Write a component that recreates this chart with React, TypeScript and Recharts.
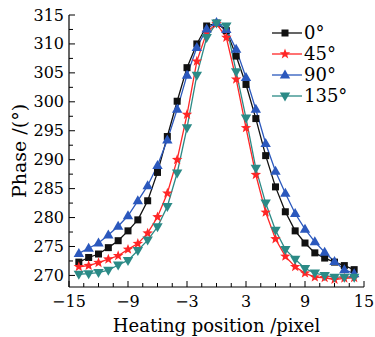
import React from "react";
import { Legend, Line, LineChart, XAxis, YAxis } from "recharts";

// heating position (pixel) and measured phase for each polarization angle
const positions = [
  -14, -13, -12, -11, -10, -9, -8, -7, -6, -5, -4, -3, -2, -1, 0, 1, 2, 3, 4, 5,
  6, 7, 8, 9, 10, 11, 12, 13, 14,
];
const phase0 = [
  272.3, 273.1, 273.7, 274.8, 276.0, 277.7, 279.6, 282.9, 287.8, 294.0, 300.1,
  305.9, 310.0, 313.1, 313.6, 312.3, 307.9, 303.0, 297.1, 290.7, 285.3, 281.0,
  277.7, 275.6, 273.9, 273.0, 272.3, 271.7, 271.0,
];
const phase45 = [
  271.5, 271.7, 272.2, 272.8, 273.4, 274.5, 275.5, 277.3, 280.1, 284.2, 290.0,
  297.8, 307.0, 312.0, 313.5, 311.1, 303.9, 295.5, 287.4, 280.9, 276.3, 273.3,
  271.5, 270.4, 269.7, 269.6, 269.3, 269.5, 269.6,
];
const phase90 = [
  273.8, 274.7, 275.6, 277.0, 278.5, 280.3, 282.9, 285.5, 289.0, 293.4, 298.7,
  304.6, 309.4, 312.6, 313.7, 312.5, 309.1, 304.2, 298.7, 292.8, 288.0, 284.2,
  280.7, 278.0, 275.8, 274.0, 272.4, 271.0, 270.3,
];
const phase135 = [
  270.2, 270.3, 270.5, 270.9, 271.8, 272.6, 274.3, 276.1, 278.4, 281.9, 287.7,
  295.5, 304.6, 311.1, 313.6, 313.1, 305.2, 297.2, 288.5, 282.5, 277.8, 274.5,
  272.8, 271.2, 270.4, 270.0, 269.7, 269.7, 269.7,
];

const xTicks = [-15, -9, -3, 3, 9, 15];
const xMinorTicks = [
  -15, -13.5, -12, -10.5, -9, -7.5, -6, -4.5, -3, -1.5, 0, 1.5, 3, 4.5, 6, 7.5,
  9, 10.5, 12, 13.5, 15,
];
const yTicks = [270, 275, 280, 285, 290, 295, 300, 305, 310, 315];
const yMinorTicks = [
  270, 272.5, 275, 277.5, 280, 282.5, 285, 287.5, 290, 292.5, 295, 297.5, 300,
  302.5, 305, 307.5, 310, 312.5, 315,
];

const series = [
  { key: "a0", name: "0°", color: "#111111", shape: "square" },
  { key: "a45", name: "45°", color: "#ff2626", shape: "star" },
  { key: "a90", name: "90°", color: "#2b58bd", shape: "up" },
  { key: "a135", name: "135°", color: "#2b8a86", shape: "down" },
];

const data = positions.map((x, i) => ({
  x,
  a0: phase0[i],
  a45: phase45[i],
  a90: phase90[i],
  a135: phase135[i],
}));

const FONT = "'DejaVu Serif', serif";

const starPoints = (cx: number, cy: number, R: number, r: number) => {
  const pts: string[] = [];
  for (let k = 0; k < 10; k++) {
    const rad = k % 2 === 0 ? R : r;
    const a = -Math.PI / 2 + (k * Math.PI) / 5;
    pts.push(`${cx + rad * Math.cos(a)},${cy + rad * Math.sin(a)}`);
  }
  return pts.join(" ");
};

const Marker = ({ cx, cy, shape, color }: any) => {
  if (cx == null || cy == null) return null;
  if (shape === "square")
    return <rect x={cx - 3.5} y={cy - 3.5} width={7} height={7} fill={color} />;
  if (shape === "star")
    return <polygon points={starPoints(cx, cy, 5.5, 2.3)} fill={color} />;
  if (shape === "up")
    return (
      <polygon
        points={`${cx},${cy - 5.5} ${cx - 5.2},${cy + 3.5} ${cx + 5.2},${cy + 3.5}`}
        fill={color}
      />
    );
  return (
    <polygon
      points={`${cx},${cy + 5.5} ${cx - 5.2},${cy - 3.5} ${cx + 5.2},${cy - 3.5}`}
      fill={color}
    />
  );
};

const fmt = (v: number) => (v < 0 ? `\u2212${Math.abs(v)}` : `${v}`);

const XTick = (props: any) => {
  const { x, y, payload } = props;
  const major = xTicks.includes(payload.value);
  return (
    <g>
      <line x1={x} x2={x} y1={y} y2={y - (major ? 6 : 4)} stroke="#000" />
      {major && (
        <text
          x={x}
          y={y + 14}
          textAnchor="middle"
          dominantBaseline="central"
          fontFamily={FONT}
          fontSize={16}
          fill="#000"
        >
          {fmt(payload.value)}
        </text>
      )}
    </g>
  );
};

const YTick = (props: any) => {
  const { x, y, payload } = props;
  const major = yTicks.includes(payload.value);
  return (
    <g>
      <line x1={x} x2={x + (major ? 6 : 4)} y1={y} y2={y} stroke="#000" />
      {major && (
        <text
          x={x - 5}
          y={y}
          textAnchor="end"
          dominantBaseline="central"
          fontFamily={FONT}
          fontSize={16}
          fill="#000"
        >
          {payload.value}
        </text>
      )}
    </g>
  );
};

const LegendContent = () => (
  <div style={{ fontFamily: FONT, fontSize: 18, color: "#000" }}>
    {series.map((s) => (
      <div
        key={s.key}
        style={{ display: "flex", alignItems: "center", height: 21 }}
      >
        <svg width={30} height={14} style={{ marginRight: 2 }}>
          <line x1={0} x2={30} y1={7} y2={7} stroke={s.color} strokeWidth={1.3} />
          <Marker cx={13} cy={7} shape={s.shape} color={s.color} />
        </svg>
        <span>{s.name}</span>
      </div>
    ))}
  </div>
);

export default function App() {
  return (
    <div style={{ position: "absolute", left: 0, top: 0, background: "#fff" }}>
      <LineChart
        width={375}
        height={337}
        data={data}
        margin={{ top: 15, right: 11, left: 0, bottom: 0 }}
      >
        <XAxis
          dataKey="x"
          type="number"
          domain={[-15, 15]}
          ticks={xMinorTicks}
          interval={0}
          tick={<XTick />}
          tickLine={false}
          tickSize={0}
          tickMargin={0}
          height={50}
          axisLine={{ stroke: "#000", strokeWidth: 1.2 }}
          label={{
            value: "Heating position /pixel",
            position: "insideBottom",
            offset: 5,
            style: { fontFamily: FONT, fontSize: 18, fill: "#000" },
          }}
        />
        <XAxis
          xAxisId="top"
          dataKey="x"
          type="number"
          orientation="top"
          domain={[-15, 15]}
          tick={false}
          tickLine={false}
          height={0}
          axisLine={{ stroke: "#000", strokeWidth: 1.2 }}
        />
        <YAxis
          type="number"
          domain={[268, 315]}
          ticks={yMinorTicks}
          interval={0}
          tick={<YTick />}
          tickLine={false}
          tickSize={0}
          tickMargin={0}
          width={69}
          axisLine={{ stroke: "#000", strokeWidth: 1.2 }}
          label={({ viewBox }: any) => {
            const cy = viewBox.y + viewBox.height / 2;
            return (
              <text
                x={19}
                y={cy}
                transform={`rotate(-90, 19, ${cy})`}
                textAnchor="middle"
                dominantBaseline="central"
                fontFamily={FONT}
                fontSize={19}
                fill="#000"
              >
                Phase /(°)
              </text>
            );
          }}
        />
        <YAxis
          yAxisId="right"
          orientation="right"
          type="number"
          domain={[268, 315]}
          tick={false}
          tickLine={false}
          width={0}
          axisLine={{ stroke: "#000", strokeWidth: 1.2 }}
        />
        <Legend
          layout="vertical"
          align="center"
          verticalAlign="middle"
          content={<LegendContent />}
          wrapperStyle={{ top: 22, left: 272, width: 90 }}
        />
        {series.map((s) => (
          <Line
            key={s.key}
            type="linear"
            dataKey={s.key}
            name={s.name}
            stroke={s.color}
            strokeWidth={1.3}
            isAnimationActive={false}
            dot={(p: any) => (
              <Marker
                key={`${s.key}-${p.index}`}
                cx={p.cx}
                cy={p.cy}
                shape={s.shape}
                color={s.color}
              />
            )}
            activeDot={false}
          />
        ))}
      </LineChart>
    </div>
  );
}
